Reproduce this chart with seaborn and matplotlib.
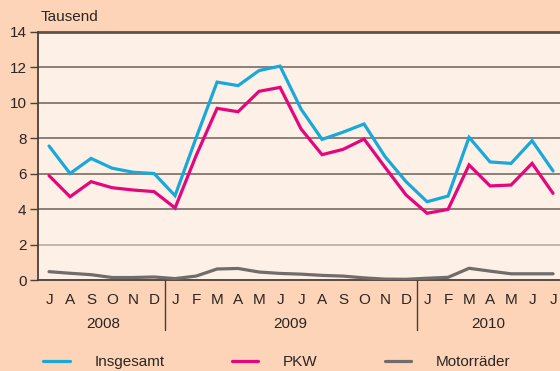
import matplotlib
matplotlib.use("Agg")
import matplotlib.pyplot as plt
import matplotlib.transforms as mtransforms
import numpy as np
import pandas as pd
import seaborn as sns

# Monthly registrations (thousands), July 2008 - July 2010
months = ["J", "A", "S", "O", "N", "D",
          "J", "F", "M", "A", "M", "J", "J", "A", "S", "O", "N", "D",
          "J", "F", "M", "A", "M", "J", "J"]
years = ["2008", "2009", "2010"]
year_centers = [2.6, 11.5, 20.9]
year_breaks = [5.5, 17.5]

insgesamt = [7.55, 6.0, 6.85, 6.3, 6.07, 6.0, 4.75, 8.0, 11.15, 10.95, 11.8, 12.05,
             9.63, 7.92, 8.33, 8.79, 6.95, 5.54, 4.41, 4.73, 8.04, 6.65, 6.57, 7.85, 6.14]
pkw = [5.88, 4.69, 5.54, 5.2, 5.07, 4.98, 4.06, 7.0, 9.67, 9.48, 10.63, 10.85,
       8.51, 7.06, 7.36, 7.94, 6.35, 4.79, 3.76, 3.98, 6.48, 5.3, 5.35, 6.57, 4.88]
motorraeder = [0.47, 0.38, 0.3, 0.14, 0.14, 0.17, 0.08, 0.22, 0.62, 0.65, 0.45, 0.37,
               0.33, 0.26, 0.22, 0.12, 0.05, 0.04, 0.1, 0.15, 0.66, 0.5, 0.35, 0.35, 0.35]
series_names = ["Insgesamt", "PKW", "Motorräder"]
series_colors = ["#19A8DA", "#E5067E", "#6F6C6B"]

sns.set_style("white")
plt.rcParams["font.family"] = ["Liberation Sans", "DejaVu Sans"]
plt.rcParams["text.color"] = "#2A2624"

outer_bg = "#FDD4B8"
plot_bg = "#FDF0E7"
text_col = "#2A2624"
fs = 11

idx = np.arange(len(months))
df = pd.concat([
    pd.DataFrame({"i": idx, "Wert": vals, "Reihe": name})
    for name, vals in zip(series_names, [insgesamt, pkw, motorraeder])
], ignore_index=True)

fig = plt.figure(figsize=(5.6, 3.71), dpi=100, facecolor=outer_bg)
ax = fig.add_axes([37.5 / 560, 1 - 280 / 371, 1 - 37.5 / 560, (280 - 31.5) / 371])
ax.set_facecolor(plot_bg)

# horizontal gridlines
for yv in [2, 4, 6, 8, 10, 12]:
    ax.axhline(yv, color="#B5A69C" if yv == 2 else "#6C6058", lw=1.1, zorder=1)
ax.axhline(14, color="#5E524B", lw=2.0, zorder=1, clip_on=False)

sns.lineplot(data=df, x="i", y="Wert", hue="Reihe", hue_order=series_names,
             palette=series_colors, linewidth=2.3, ax=ax, legend=False,
             zorder=3)
for ln in ax.get_lines():
    ln.set_solid_joinstyle("miter")

ax.set_xlim(-0.55, 24.33)
ax.set_ylim(0, 14)
ax.set_yticks(range(0, 15, 2))
ax.set_yticklabels([str(v) for v in range(0, 15, 2)], fontsize=fs, color=text_col)
ax.set_xticks(idx)
ax.set_xticklabels(months, fontsize=fs, color=text_col)
ax.tick_params(axis="x", length=0, pad=9.5)
ax.tick_params(axis="y", length=5.5, width=1.0, color="#4A3F38", pad=2.5, left=True)
ax.set_xlabel("")
ax.set_ylabel("")

for s in ["top", "right"]:
    ax.spines[s].set_visible(False)
for s in ["left", "bottom"]:
    ax.spines[s].set_color("#4A3F38")
    ax.spines[s].set_linewidth(1.3)

# year separators and labels below the axis
trans = mtransforms.blended_transform_factory(ax.transData, ax.transAxes)
for xb in year_breaks:
    ax.plot([xb, xb], [0, -0.2], transform=trans, color="#4A3F38", lw=1.0,
            clip_on=False)
for xc, yr in zip(year_centers, years):
    ax.text(xc, -0.177, yr, transform=trans, ha="center", va="center",
            fontsize=fs, color=text_col)

fig.text(40.5 / 560, 1 - 17 / 371, "Tausend", ha="left", va="center",
         fontsize=fs, color=text_col)

# legend along the bottom
handles = [plt.Line2D([], [], color=c, lw=2.3) for c in series_colors]
fig.legend(handles, series_names, loc="center left",
           bbox_to_anchor=(43 / 560, 1 - 362 / 371), ncol=3, frameon=False,
           fontsize=fs, handlelength=1.75, handletextpad=1.6,
           columnspacing=4.4, borderpad=0, borderaxespad=0)

fig.savefig("out.png", dpi=100, facecolor=outer_bg)
